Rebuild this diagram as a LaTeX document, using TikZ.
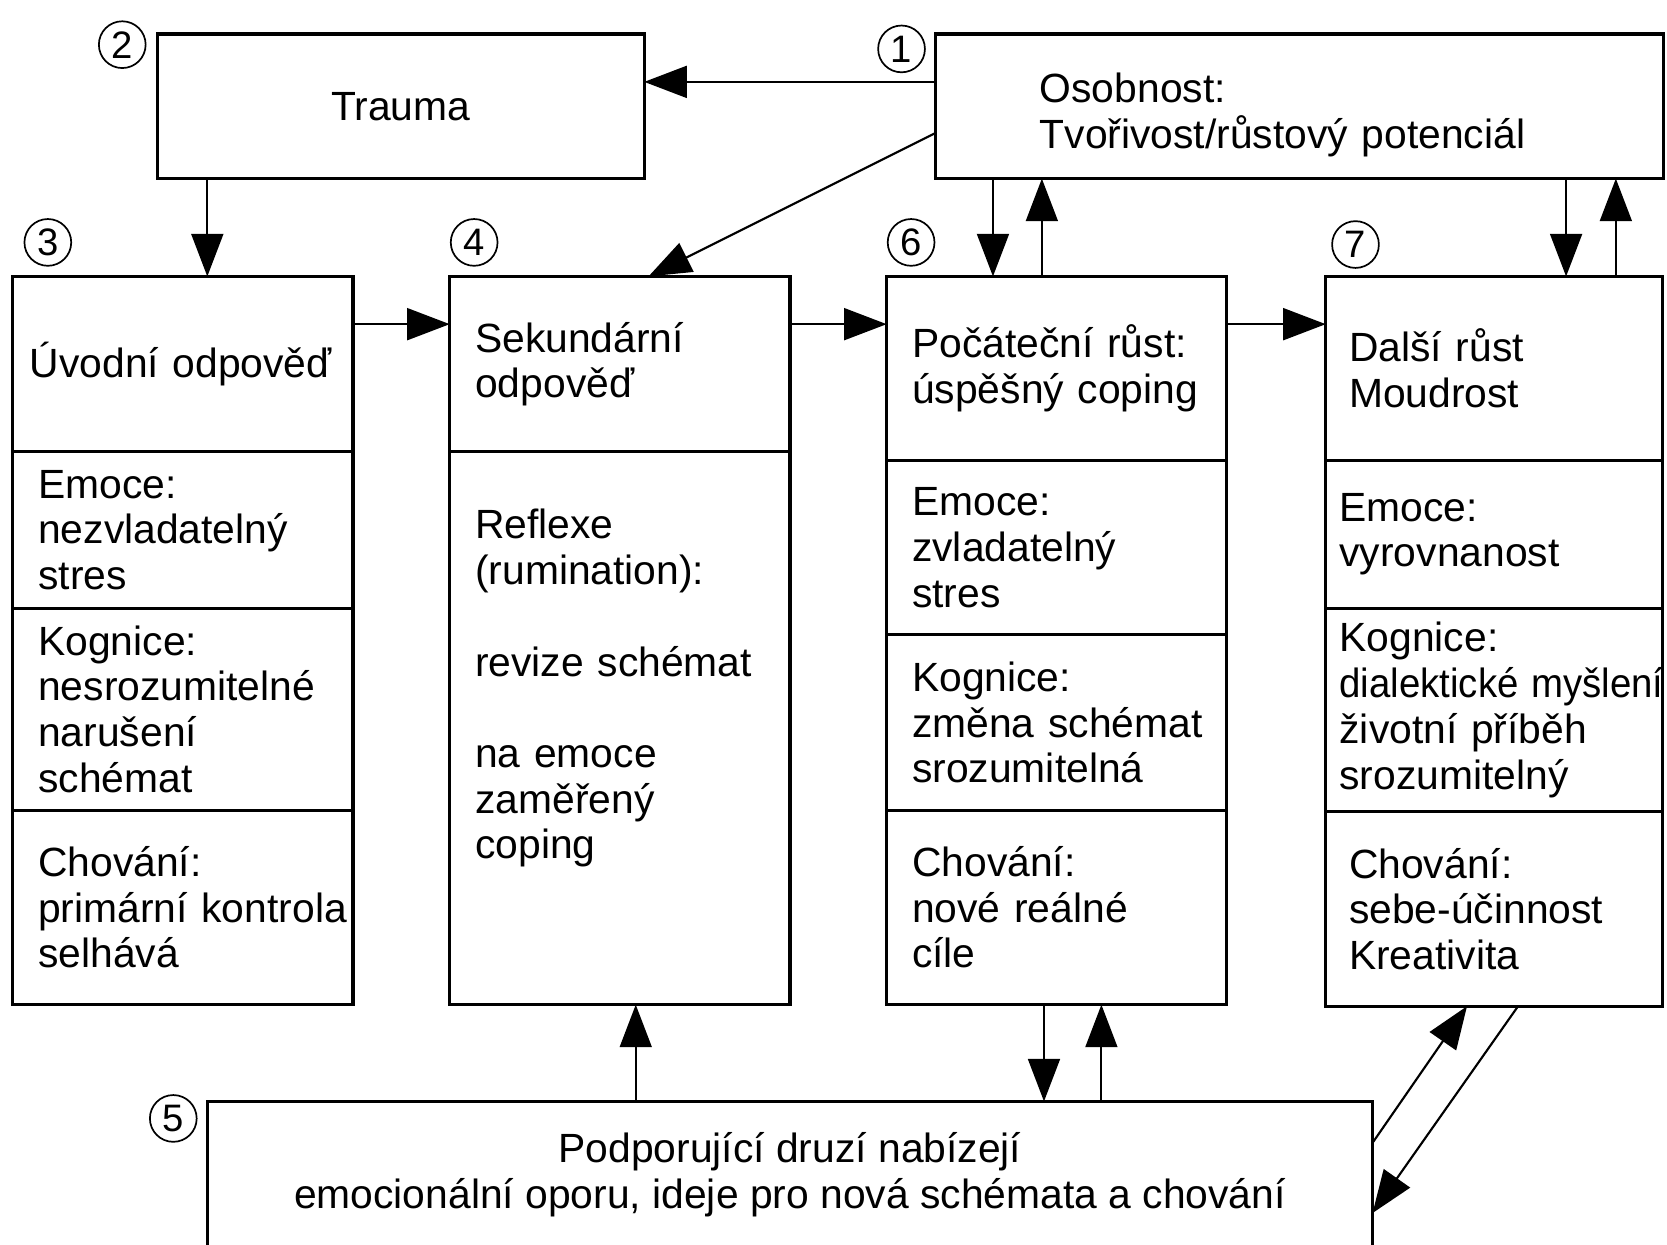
\documentclass[tikz,border=0pt]{standalone}
\usepackage{fontspec}
\usepackage{graphicx}
\setmainfont{Liberation Sans}
\usetikzlibrary{arrows.meta,positioning}
\hyphenpenalty=10000
\exhyphenpenalty=10000

\begin{document}
\begin{tikzpicture}[
		x=0.25pt, y=-0.25pt,
		line width=.75pt,
		font=\fontsize{9.6}{10.75}\selectfont,
		block/.style={draw, outer sep=0pt, inner sep=0pt},
		cell/.style={draw, outer sep=0pt, minimum width=80pt, text width=68pt, inner xsep=6pt, align=left},
		num/.style={circle, draw, line width=.4pt, minimum size=11pt, inner sep=0pt, font=\fontsize{9}{9}\selectfont},
		arrow/.style={-{Triangle[length=10pt, width=7.5pt]}, line width=.5pt},
	]
		\useasboundingbox (0,0) rectangle (1568,1171);
		% top row
		\node (trauma) [block, minimum width=114.5pt, minimum height=34pt] at (377,100) {Trauma};
		\node (osob) [block, minimum width=171.25pt, minimum height=34pt, text width=122.25pt, align=left] at (1222.5,100) {\raisebox{-2pt}[\height][\depth]{Osobnost:}\\\raisebox{-2pt}[\height][\depth]{Tvořivost/růstový potenciál}};

		% column 3
		\node (b3a) [cell, minimum height=41.25pt, text width=72pt, inner xsep=4pt, anchor=north] at (172,260) {Úvodní odpověď};
		\node (b3b) [cell, minimum height=36.75pt, below=0pt of b3a] {Emoce:\\nezvladatelný\\stres};
		\node (b3c) [cell, minimum height=47.5pt, below=0pt of b3b] {Kognice:\\nesrozumitelné\\narušení\\schémat};
		\node (b3d) [cell, minimum height=45.75pt, below=0pt of b3c] {Chování:\\primární~kontrola\\selhává};

		% column 4
		\node (b4a) [cell, minimum height=41.25pt, anchor=north] at (583,260) {Sekundární\\odpověď};
		\node (b4b) [cell, minimum height=130pt, below=0pt of b4a] {Reflexe\\(rumination):\\[10.75pt]revize~schémat\\[10.75pt]na emoce\\zaměřený\\coping\\[6.75pt]\strut};

		% column 6
		\node (b6a) [cell, minimum height=43.25pt, anchor=north] at (994,260) {Počáteční růst:\\úspěšný~coping};
		\node (b6b) [cell, minimum height=41pt, below=0pt of b6a] {Emoce:\\zvladatelný\\stres};
		\node (b6c) [cell, minimum height=41.25pt, below=0pt of b6b] {Kognice:\\změna~schémat\\srozumitelná};
		\node (b6d) [cell, minimum height=45.75pt, below=0pt of b6c] {Chování:\\nové~reálné\\cíle};

		% column 7
		\node (b7a) [cell, minimum width=79.25pt, text width=68.25pt, inner xsep=5.5pt, minimum height=43.25pt, anchor=north] at (1405.5,260) {Další růst\\Moudrost};
		\node (b7b) [cell, minimum width=79.25pt, text width=72.75pt, inner xsep=3.25pt, minimum height=34.75pt, below=0pt of b7a] {Emoce:\\vyrovnanost};
		\node (b7c) [cell, minimum width=79.25pt, text width=72.75pt, inner xsep=3.25pt, minimum height=47.5pt, below=0pt of b7b] {Kognice:\\\scalebox{.94}[1]{dialektické myšlení}\\životní~příběh\\srozumitelný};
		\node (b7d) [cell, minimum width=79.25pt, text width=68.25pt, inner xsep=5.5pt, minimum height=45.75pt, below=0pt of b7c] {Chování:\\sebe-účinnost\\Kreativita};

		% support
		\node (supp) [block, minimum width=274pt, minimum height=34.5pt, anchor=north, align=center] at (743,1036) {Podporující druzí nabízejí\\emocionální oporu, ideje pro nová schémata a chování};

		% numbers
		\node (n1) [num] at (848,46) {1};
		\node (n2) [num] at (115,42) {2};
		\node (n3) [num] at (45,228) {3};
		\node (n4) [num] at (446,228) {4};
		\node (n5) [num] at (163,1052) {5};
		\node (n6) [num] at (857,228) {6};
		\node (n7) [num] at (1275,230) {7};

		\draw[arrow] ([yshift=5.75pt]osob.west) -- ([yshift=5.75pt]trauma.east);
		\draw[arrow] ([yshift=-6.25pt]osob.west) -- ([xshift=6.75pt]b4a.north);
		\draw[arrow] ([xshift=5.75pt]b3a.north |- trauma.south) -- ([xshift=5.75pt]b3a.north);
		\draw[arrow] ([yshift=9.4pt]b3a.east) -- ([yshift=9.4pt]b4a.west);
		\draw[arrow] ([yshift=9.4pt]b4a.east) -- ([yshift=9.4pt]b4a.east -| b6a.west);
		\draw[arrow] ([yshift=10.4pt]b6a.east) -- ([yshift=10.4pt]b7a.west);
		\draw[arrow] ([xshift=-15pt]b6a.north |- osob.south) -- ([xshift=-15pt]b6a.north);
		\draw[arrow] ([xshift=-3.5pt]b6a.north) -- ([xshift=-3.5pt]b6a.north |- osob.south);
		\draw[arrow] ([xshift=16.9pt]b7a.north |- osob.south) -- ([xshift=16.9pt]b7a.north);
		\draw[arrow] ([xshift=28.6pt]b7a.north) -- ([xshift=28.6pt]b7a.north |- osob.south);
		\draw[arrow] ([xshift=3.75pt]b4b.south |- supp.north) -- ([xshift=3.75pt]b4b.south);
		\draw[arrow] ([xshift=-3pt]b6d.south) -- ([xshift=-3pt]b6d.south |- supp.north);
		\draw[arrow] ([xshift=10.5pt]b6d.south |- supp.north) -- ([xshift=10.5pt]b6d.south);
		\draw[arrow] ([yshift=-9.75pt]supp.north east) -- ([xshift=-6.4pt]b7d.south);
		\draw[arrow] ([xshift=5.6pt]b7d.south) -- ([yshift=-26.25pt]supp.north east);
	\end{tikzpicture}
\end{document}
